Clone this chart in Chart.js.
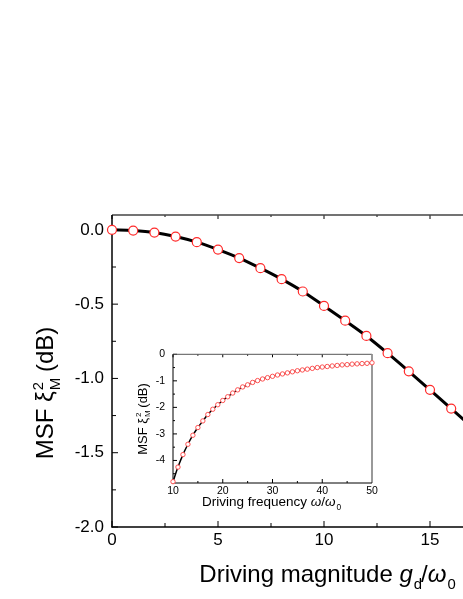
<!DOCTYPE html>
<html lang="en">
<head>
<meta charset="UTF-8" />
<title>MSF vs driving magnitude</title>
<script src="https://cdn.jsdelivr.net/npm/chart.js"></script>
<style>
  html, body { margin: 0; padding: 0; background: #fff; overflow: hidden; }
  .wrap { position: relative; width: 463px; height: 599px; overflow: hidden; }
  #mainChart { position: absolute; left: 0; top: 0; }
  #insetChart { position: absolute; left: 120px; top: 340px; }
</style>
</head>
<body>
<div class="wrap">
  <canvas id="mainChart" width="560" height="599"></canvas>
  <canvas id="insetChart" width="270" height="185"></canvas>
</div>
<script>
// main panel: MSF (dB) against driving magnitude g_d/w0
const magnitude = [0, 1, 2, 3, 4, 5, 6, 7, 8, 9, 10, 11, 12, 13, 14, 15, 16, 17];
const msfMain = [0.0, -0.005, -0.018, -0.045, -0.083, -0.133, -0.19, -0.258, -0.332, -0.415,
                 -0.512, -0.611, -0.714, -0.830, -0.952, -1.077, -1.203, -1.33];
const mainXTicks = [0, 5, 10, 15, 20];
const mainYTicks = [0, -0.5, -1.0, -1.5, -2.0];

// inset: MSF (dB) against driving frequency w/w0
const frequency = [10, 11, 12, 13, 14, 15, 16, 17, 18, 19, 20, 21, 22, 23, 24, 25, 26, 27, 28, 29,
                   30, 31, 32, 33, 34, 35, 36, 37, 38, 39, 40, 41, 42, 43, 44, 45, 46, 47, 48, 49, 50];
const msfInset = [-4.80, -4.25, -3.78, -3.39, -3.05, -2.76, -2.51, -2.27, -2.07, -1.90,
                  -1.74, -1.60, -1.46, -1.34, -1.23, -1.15, -1.06, -0.99, -0.93, -0.88,
                  -0.83, -0.78, -0.74, -0.70, -0.66, -0.62, -0.59, -0.56, -0.53, -0.50,
                  -0.48, -0.46, -0.44, -0.42, -0.40, -0.39, -0.37, -0.36, -0.35, -0.34, -0.32];
const insetXTicks = [10, 20, 30, 40, 50];
const insetYTicks = [0, -1, -2, -3, -4];

const FAMILY = "'Liberation Sans', Arial, sans-serif";

// text with sub/superscripts, centred on (cx, baseline)
function drawRich(ctx, parts, cx, baseline, size, angle) {
  const small = size * 0.62;
  const font = (s, it) => (it ? 'italic ' : '') + s + 'px ' + FAMILY;
  ctx.save();
  ctx.translate(cx, baseline);
  ctx.rotate(angle || 0);
  ctx.textAlign = 'left';
  ctx.textBaseline = 'alphabetic';
  ctx.fillStyle = '#000';
  const widths = parts.map(p => {
    let w = 0, s = 0;
    if (p.t) { ctx.font = font(size, p.italic); w = ctx.measureText(p.t).width; }
    ctx.font = font(small, false);
    if (p.sup) s = Math.max(s, ctx.measureText(p.sup).width);
    if (p.sub) s = Math.max(s, ctx.measureText(p.sub).width);
    return [w, s];
  });
  const total = widths.reduce((a, w) => a + w[0] + w[1], 0);
  let x = -total / 2;
  parts.forEach((p, i) => {
    if (p.t) { ctx.font = font(size, p.italic); ctx.fillText(p.t, x, 0); }
    x += widths[i][0];
    ctx.font = font(small, false);
    if (p.sup) ctx.fillText(p.sup, x + 1, -size * 0.42);
    if (p.sub) ctx.fillText(p.sub, x + 1, size * 0.28);
    x += widths[i][1];
  });
  ctx.restore();
}

// frame with inward ticks and axis titles
const framePlugin = {
  id: 'frame',
  beforeDatasetsDraw(chart, args, o) {
    const { ctx, chartArea: a, scales: { x, y } } = chart;
    ctx.save();
    const line = (x1, y1, x2, y2) => { ctx.beginPath(); ctx.moveTo(x1, y1); ctx.lineTo(x2, y2); ctx.stroke(); };
    ctx.strokeStyle = '#000';
    ctx.lineWidth = 1;
    const half = o.xStep / 2;
    for (let v = x.min; v <= x.max + 1e-9; v += half) {
      const major = Math.abs(v / o.xStep - Math.round(v / o.xStep)) < 1e-6;
      const px = x.getPixelForValue(v);
      line(px, a.bottom, px, a.bottom - (major ? o.major : o.minor));
      line(px, a.top, px, a.top + (major ? o.top : o.top / 2));
    }
    const yh = o.yStep / 2;
    for (let v = Math.ceil(y.min / yh) * yh; v <= y.max + 1e-9; v += yh) {
      const major = Math.abs(v / o.yStep - Math.round(v / o.yStep)) < 1e-6;
      const py = y.getPixelForValue(v);
      line(a.left, py, a.left + (major ? o.major : o.minor), py);
    }
    const side = (s, x1, y1, x2, y2) => {
      if (!s) return;
      ctx.strokeStyle = s.color; ctx.lineWidth = s.width; line(x1, y1, x2, y2);
    };
    side(o.topLine, a.left, a.top, a.right, a.top);
    side(o.rightLine, a.right, a.top, a.right, a.bottom);
    side(o.leftLine, a.left, a.top, a.left, a.bottom + 0.5);
    side(o.bottomLine, a.left - 0.5, a.bottom, a.right, a.bottom);
    ctx.restore();
  },
  afterDraw(chart, args, o) {
    const ctx = chart.ctx;
    drawRich(ctx, o.xTitle.parts, o.xTitle.x, o.xTitle.y, o.xTitle.size, 0);
    drawRich(ctx, o.yTitle.parts, o.yTitle.x, o.yTitle.y, o.yTitle.size, -Math.PI / 2);
  }
};

const fixedTicks = arr => scale => { scale.ticks = arr.map(v => ({ value: v })); };

new Chart(document.getElementById('mainChart'), {
  type: 'line',
  data: {
    datasets: [{
      data: magnitude.map((m, i) => ({ x: m, y: msfMain[i] })),
      borderColor: '#000',
      borderWidth: 3,
      cubicInterpolationMode: 'monotone',
      pointRadius: 4.5,
      pointBorderWidth: 1.2,
      pointBorderColor: '#ff2a2a',
      pointBackgroundColor: '#fff',
      clip: false
    }]
  },
  options: {
    responsive: false,
    animation: false,
    layout: { padding: { top: 215, right: 24, left: 0, bottom: 0 } },
    plugins: {
      legend: { display: false },
      tooltip: { enabled: false },
      frame: {
        xStep: 5, yStep: 0.5, major: 6, minor: 4, top: 4,
        topLine: { color: '#444', width: 1.5 },
        leftLine: { color: '#000', width: 1.5 },
        bottomLine: { color: '#000', width: 1.5 },
        xTitle: {
          x: 327, y: 582, size: 24,
          parts: [{ t: 'Driving magnitude ' }, { t: 'g', italic: true, sub: 'd' }, { t: '/' }, { t: 'ω', italic: true, sub: '0' }]
        },
        yTitle: {
          x: 53, y: 393, size: 24,
          parts: [{ t: 'MSF ' }, { t: 'ξ', sup: '2', sub: 'M' }, { t: ' (dB)' }]
        }
      }
    },
    scales: {
      x: {
        type: 'linear', min: 0, max: 20,
        grid: { display: false, drawTicks: false },
        border: { display: false },
        afterBuildTicks: fixedTicks(mainXTicks),
        afterFit: s => { s.height = 72; },
        ticks: { padding: 3, maxRotation: 0, color: '#000', font: { family: FAMILY, size: 17 } }
      },
      y: {
        type: 'linear', min: -2.0, max: 0.1,
        grid: { display: false, drawTicks: false },
        border: { display: false },
        afterBuildTicks: fixedTicks(mainYTicks),
        afterFit: s => { s.width = 112; },
        ticks: { padding: 8, color: '#000', font: { family: FAMILY, size: 17 }, callback: v => v.toFixed(1) }
      }
    }
  },
  plugins: [framePlugin]
});

new Chart(document.getElementById('insetChart'), {
  type: 'line',
  data: {
    datasets: [{
      data: frequency.map((f, i) => ({ x: f, y: msfInset[i] })),
      borderColor: '#000',
      borderWidth: 1.5,
      cubicInterpolationMode: 'monotone',
      pointRadius: 2.2,
      pointBorderWidth: 1,
      pointBorderColor: '#ff5050',
      pointBackgroundColor: '#fff',
      clip: false
    }]
  },
  options: {
    responsive: false,
    animation: false,
    layout: { padding: { top: 11, right: 18, left: 0, bottom: 0 } },
    plugins: {
      legend: { display: false },
      tooltip: { enabled: false },
      frame: {
        xStep: 10, yStep: 1, major: 4, minor: 2, top: 3,
        topLine: { color: '#555', width: 1 },
        rightLine: { color: '#999', width: 2 },
        leftLine: { color: '#000', width: 1 },
        bottomLine: { color: '#000', width: 1 },
        xTitle: {
          x: 151, y: 166, size: 13.5,
          parts: [{ t: 'Driving frequency ' }, { t: 'ω', italic: true }, { t: '/' }, { t: 'ω', italic: true, sub: '0' }]
        },
        yTitle: {
          x: 26.5, y: 79, size: 13,
          parts: [{ t: 'MSF ' }, { t: 'ξ', sup: '2', sub: 'M' }, { t: ' (dB)' }]
        }
      }
    },
    scales: {
      x: {
        type: 'linear', min: 10, max: 50,
        grid: { display: false, drawTicks: false },
        border: { display: false },
        afterBuildTicks: fixedTicks(insetXTicks),
        afterFit: s => { s.height = 42; },
        ticks: { padding: 2, maxRotation: 0, color: '#000', font: { family: FAMILY, size: 10.5 } }
      },
      y: {
        type: 'linear', min: -4.85, max: 0,
        grid: { display: false, drawTicks: false },
        border: { display: false },
        afterBuildTicks: fixedTicks(insetYTicks),
        afterFit: s => { s.width = 53; },
        ticks: { padding: 8, color: '#000', font: { family: FAMILY, size: 10.5 } }
      }
    }
  },
  plugins: [framePlugin]
});
</script>
</body>
</html>
